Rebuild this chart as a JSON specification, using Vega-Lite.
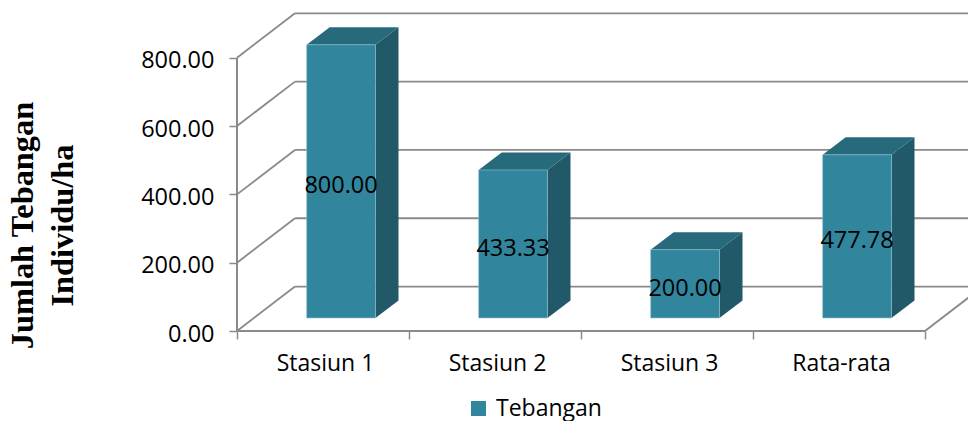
{
  "$schema": "https://vega.github.io/schema/vega-lite/v6.json",
  "autosize": {"type": "none"},
  "padding": {"left": 237, "top": 0, "right": 0, "bottom": 90},
  "width": 731,
  "height": 331,
  "background": "white",
  "view": {"stroke": null},
  "datasets": {
    "stations": [
      {"station": "Stasiun 1", "value": 800.00, "series": "Tebangan"},
      {"station": "Stasiun 2", "value": 433.33, "series": "Tebangan"},
      {"station": "Stasiun 3", "value": 200.00, "series": "Tebangan"},
      {"station": "Rata-rata", "value": 477.78, "series": "Tebangan"}
    ],
    "levels": [
      {"level": 0}, {"level": 200}, {"level": 400}, {"level": 600}, {"level": 800}
    ]
  },
  "data": {"name": "stations"},
  "transform": [
    {"window": [{"op": "row_number", "as": "order"}]},
    {"calculate": "datum.order - 0.5 + 0.105 - 0.2", "as": "left"},
    {"calculate": "datum.left + 0.4", "as": "right"},
    {"calculate": "38", "as": "base"},
    {"calculate": "datum.value + 38", "as": "top"}
  ],
  "layer": [
    {
      "data": {"name": "levels"},
      "transform": [
        {"calculate": "0.337", "as": "wallStart"},
        {"calculate": "4.25", "as": "wallEnd"},
        {"calculate": "datum.level + 130", "as": "wallLevel"}
      ],
      "mark": {"type": "rule", "color": "#8a8a8a", "strokeWidth": 1.8},
      "encoding": {
        "x": {
          "field": "wallStart",
          "type": "quantitative",
          "scale": {"domain": [0, 4.25], "nice": false, "zero": false},
          "axis": {
            "title": null,
            "values": [0, 0.5, 1, 1.5, 2, 2.5, 3, 3.5, 4],
            "domain": false,
            "grid": false,
            "tickColor": "#8a8a8a",
            "tickWidth": 1.5,
            "tickSize": 8,
            "tickOpacity": {"condition": {"test": "datum.value % 1 === 0", "value": 1}, "value": 0},
            "labelExpr": "datum.value % 1 === 0 ? '' : ['Stasiun 1', 'Stasiun 2', 'Stasiun 3', 'Rata-rata'][floor(datum.value)]",
            "labelAngle": 0,
            "labelFont": "Open Sans",
            "labelFontSize": 23,
            "labelColor": "#000000",
            "labelPadding": 13,
            "labelOffset": 2,
            "labelOverlap": false,
            "labelFlush": false
          }
        },
        "x2": {"field": "wallEnd"},
        "y": {
          "field": "wallLevel",
          "type": "quantitative",
          "scale": {"domain": [0, 968.9], "nice": false, "zero": false},
          "axis": {
            "title": ["Jumlah Tebangan", "Individu/ha"],
            "titleFont": "Liberation Serif",
            "titleFontWeight": "bold",
            "titleFontSize": 32.4,
            "titleColor": "#000000",
            "titleAngle": -90,
            "titleAlign": "center",
            "titleBaseline": "alphabetic",
            "titleLineHeight": 40,
            "titleX": -205,
            "titleY": 225,
            "values": [0, 200, 400, 600, 800],
            "format": ".2f",
            "domain": false,
            "grid": false,
            "tickColor": "#8a8a8a",
            "tickWidth": 1.5,
            "tickSize": 8,
            "labelFont": "Open Sans",
            "labelFontSize": 23.5,
            "labelColor": "#000000",
            "labelPadding": 15,
            "labelOffset": 3
          }
        }
      }
    },
    {
      "data": {"name": "levels"},
      "transform": [
        {"calculate": "0", "as": "near"},
        {"calculate": "0.337", "as": "far"},
        {"calculate": "datum.level + 130", "as": "wallLevel"}
      ],
      "mark": {"type": "rule", "color": "#8a8a8a", "strokeWidth": 1.8},
      "encoding": {
        "x": {"field": "near", "type": "quantitative"},
        "x2": {"field": "far"},
        "y": {"field": "level", "type": "quantitative"},
        "y2": {"field": "wallLevel"}
      }
    },
    {
      "data": {"values": [{"edge": "upright", "a": 0, "b": 0, "c": 0, "d": 800}, {"edge": "floor front", "a": 0, "b": 4, "c": 0, "d": 0}, {"edge": "floor side", "a": 4, "b": 4.337, "c": 0, "d": 130}]},
      "mark": {"type": "rule", "color": "#8a8a8a", "strokeWidth": 2},
      "encoding": {
        "x": {"field": "a", "type": "quantitative"},
        "x2": {"field": "b"},
        "y": {"field": "c", "type": "quantitative"},
        "y2": {"field": "d"}
      }
    },
    {
      "transform": [
        {"calculate": "[0, 1]", "as": "depth"},
        {"flatten": ["depth"]},
        {"calculate": "datum.right + datum.depth * 0.134", "as": "sx"},
        {"calculate": "datum.base + datum.depth * 51", "as": "sy"},
        {"calculate": "datum.top + datum.depth * 51", "as": "sy2"}
      ],
      "mark": {"type": "area", "color": "#215968", "line": false},
      "encoding": {
        "detail": {"field": "station"},
        "x": {"field": "sx", "type": "quantitative"},
        "y": {"field": "sy", "type": "quantitative", "stack": null},
        "y2": {"field": "sy2"}
      }
    },
    {
      "transform": [
        {"calculate": "[0, 1]", "as": "depth"},
        {"flatten": ["depth"]},
        {"calculate": "datum.left + datum.depth * 0.134", "as": "tx"},
        {"calculate": "datum.right + datum.depth * 0.134", "as": "tx2"},
        {"calculate": "datum.top + datum.depth * 51", "as": "ty"}
      ],
      "mark": {"type": "area", "orient": "horizontal", "color": "#276a7c", "line": false},
      "encoding": {
        "detail": {"field": "station"},
        "x": {"field": "tx", "type": "quantitative", "stack": null},
        "x2": {"field": "tx2"},
        "y": {"field": "ty", "type": "quantitative"}
      }
    },
    {
      "mark": {"type": "rect", "stroke": "#8fc3d1", "strokeWidth": 0.6},
      "encoding": {
        "x": {"field": "left", "type": "quantitative"},
        "x2": {"field": "right"},
        "y": {"field": "base", "type": "quantitative"},
        "y2": {"field": "top"},
        "color": {
          "field": "series",
          "type": "nominal",
          "scale": {"domain": ["Tebangan"], "range": ["#31859c"]},
          "legend": {
            "title": null,
            "orient": "none",
            "legendX": 230,
            "legendY": 397,
            "padding": 0,
            "symbolType": "square",
            "symbolSize": 225,
            "symbolStrokeWidth": 0,
            "labelFont": "Open Sans",
            "labelFontSize": 23,
            "labelColor": "#000000",
            "labelOffset": 6
          }
        }
      }
    },
    {
      "transform": [
        {"calculate": "(datum.left + datum.right) / 2", "as": "cx"},
        {"calculate": "(datum.base + datum.top) / 2", "as": "cy"}
      ],
      "mark": {"type": "text", "font": "Open Sans", "fontSize": 23.5, "color": "#000000", "align": "center", "baseline": "middle", "dy": 5},
      "encoding": {
        "x": {"field": "cx", "type": "quantitative"},
        "y": {"field": "cy", "type": "quantitative"},
        "text": {"field": "value", "type": "quantitative", "format": ".2f"}
      }
    }
  ]
}
